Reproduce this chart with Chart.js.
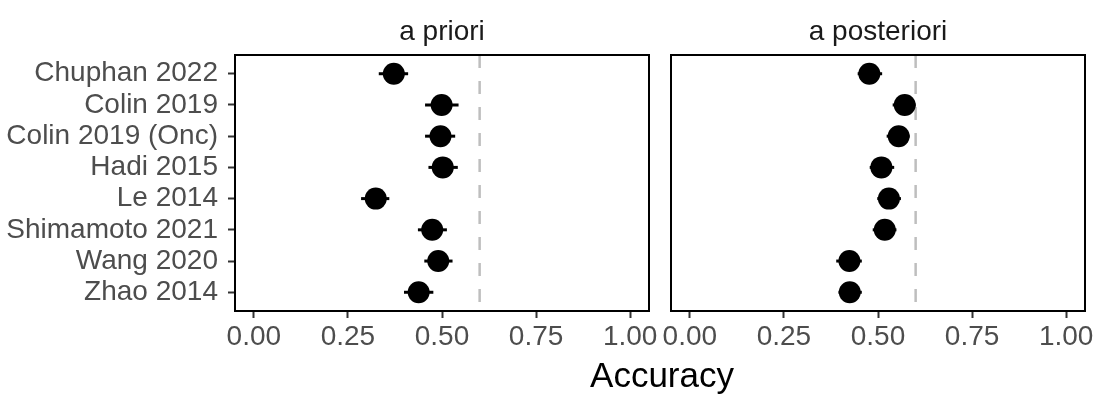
<!DOCTYPE html>
<html>
<head>
<meta charset="utf-8">
<script src="https://cdn.jsdelivr.net/npm/chart.js@4.4.1/dist/chart.umd.min.js"></script>
<style>
  body { margin: 0; background: #fff; }
  #wrap { position: relative; width: 1096px; height: 397px; overflow: hidden; }
  #left { position: absolute; left: 0; top: 0; }
  #right { position: absolute; left: 660px; top: 0; }
  #xtitle { position: absolute; left: 462px; width: 400px; top: 355px; text-align: center;
    font-family: 'Liberation Sans', Arial, sans-serif; font-size: 35px; color: #000; }
</style>
</head>
<body>
<div id="wrap">
  <canvas id="left" width="660" height="397"></canvas>
  <canvas id="right" width="436" height="397"></canvas>
  <div id="xtitle">Accuracy</div>
</div>
<script>
// studies, top to bottom
const studies = ['Chuphan 2022', 'Colin 2019', 'Colin 2019 (Onc)', 'Hadi 2015', 'Le 2014', 'Shimamoto 2021', 'Wang 2020', 'Zhao 2014'];

// a priori
const prioriAcc = [0.372, 0.499, 0.496, 0.502, 0.324, 0.474, 0.490, 0.438];
const prioriLo  = [0.332, 0.455, 0.455, 0.464, 0.285, 0.436, 0.453, 0.399];
const prioriHi  = [0.410, 0.544, 0.535, 0.542, 0.360, 0.513, 0.528, 0.477];

// a posteriori
const postAcc = [0.477, 0.571, 0.555, 0.509, 0.529, 0.518, 0.424, 0.425];
const postLo  = [0.446, 0.539, 0.523, 0.478, 0.498, 0.486, 0.389, 0.395];
const postHi  = [0.511, 0.600, 0.584, 0.543, 0.561, 0.549, 0.457, 0.457];

const xTicks = [0, 0.25, 0.5, 0.75, 1];
const refLine = 0.6;

const FONT = "'Liberation Sans', Arial, sans-serif";

// draws the panel frame + strip label
const panelDeco = {
  id: 'panelDeco',
  afterDatasetsDraw(chart, args, opts) {
    const { ctx, chartArea: a } = chart;
    ctx.save();
    ctx.strokeStyle = '#000';
    ctx.lineWidth = 2;
    ctx.strokeRect(a.left, a.top, a.right - a.left, a.bottom - a.top);
    ctx.fillStyle = '#1a1a1a';
    ctx.font = '28px ' + FONT;
    ctx.textAlign = 'center';
    ctx.textBaseline = 'alphabetic';
    ctx.fillText(opts.text, (a.left + a.right) / 2, 40);
    ctx.restore();
  }
};

function makeDatasets(acc, lo, hi) {
  const ds = [];
  ds.push({
    type: 'scatter',
    data: studies.map((s, i) => ({ x: acc[i], y: i + 1 })),
    pointRadius: 11,
    pointBackgroundColor: '#000',
    pointBorderWidth: 0,
    order: 0
  });
  studies.forEach((s, i) => {
    ds.push({
      type: 'line',
      data: [{ x: lo[i], y: i + 1 }, { x: hi[i], y: i + 1 }],
      borderColor: '#000',
      borderWidth: 3,
      pointRadius: 0,
      order: 1
    });
  });
  ds.push({
    type: 'line',
    data: [{ x: refLine, y: 0.4 }, { x: refLine, y: 8.6 }],
    borderColor: '#bebebe',
    borderWidth: 2.5,
    borderDash: [13, 13],
    pointRadius: 0,
    order: 2
  });
  return ds;
}

function makeChart(id, acc, lo, hi, strip, showY, padding) {
  return new Chart(document.getElementById(id), {
    type: 'scatter',
    data: { datasets: makeDatasets(acc, lo, hi) },
    plugins: [panelDeco],
    options: {
      responsive: false,
      animation: false,
      events: [],
      layout: { padding: padding },
      plugins: {
        legend: { display: false },
        tooltip: { enabled: false },
        panelDeco: { text: strip }
      },
      scales: {
        x: {
          type: 'linear',
          min: -0.05,
          max: 1.05,
          afterBuildTicks: (sc) => { sc.ticks = xTicks.map(v => ({ value: v })); },
          afterFit: (sc) => { sc.height = 86; },
          border: { display: false },
          grid: { drawOnChartArea: false, drawTicks: true, tickLength: 7, tickColor: '#333', tickWidth: 2 },
          ticks: {
            color: '#4d4d4d',
            font: { family: FONT, size: 28 },
            padding: 2,
            maxRotation: 0,
            autoSkip: false,
            callback: (v) => v.toFixed(2)
          }
        },
        y: {
          type: 'linear',
          display: showY,
          reverse: true,
          min: 0.4,
          max: 8.6,
          afterBuildTicks: (sc) => { sc.ticks = studies.map((s, i) => ({ value: i + 1 })); },
          afterFit: (sc) => { sc.width = showY ? 235 : 0; },
          border: { display: false },
          grid: { drawOnChartArea: false, drawTicks: true, tickLength: 7, tickColor: '#333', tickWidth: 2 },
          ticks: {
            color: '#4d4d4d',
            font: { family: FONT, size: 28 },
            padding: 10,
            autoSkip: false,
            callback: (v) => studies[v - 1]
          }
        }
      }
    }
  });
}

makeChart('left', prioriAcc, prioriLo, prioriHi, 'a priori', true, { top: 55, right: 9, left: 0, bottom: 0 });
makeChart('right', postAcc, postLo, postHi, 'a posteriori', false, { top: 55, right: 7, left: 9, bottom: 0 });
</script>
</body>
</html>
